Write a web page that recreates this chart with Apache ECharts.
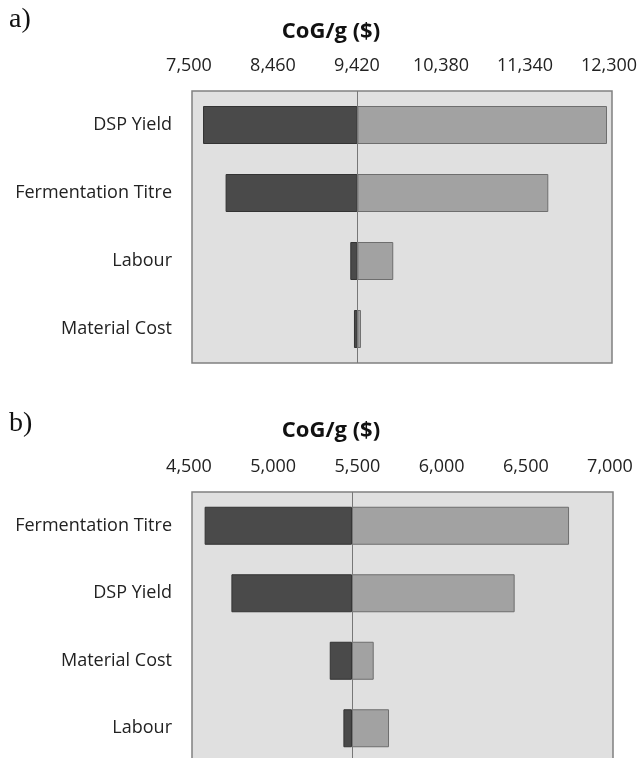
<!DOCTYPE html>
<html>
<head>
<meta charset="utf-8">
<script src="https://cdn.jsdelivr.net/npm/echarts@6/dist/echarts.min.js"></script>
<style>
html,body{margin:0;padding:0;background:#fff;}
#c{width:638px;height:758px;}
</style>
</head>
<body>
<div id="c"></div>
<script>
// Panel a)
const catsA = ['DSP Yield', 'Fermentation Titre', 'Labour', 'Material Cost'];
const lowA = [7626, 7884, 9309, 9351];
const highA = [12243, 11572, 9800, 9431];
const baseA = 9390;
const ticksA = [7500, 8460, 9420, 10380, 11340, 12300];

// Panel b)
const catsB = ['Fermentation Titre', 'DSP Yield', 'Material Cost', 'Labour'];
const lowB = [4575, 4734, 5318, 5399];
const highB = [6739, 6416, 5579, 5670];
const baseB = 5450;
const ticksB = [4500, 5000, 5500, 6000, 6500, 7000];

const labelFont = 'Open Sans';
const DARK = '#4a4a4a', LIGHT = '#a2a2a2';

function fmt(v){ return Number(v).toLocaleString('en-US'); }

function xAxisFor(idx, ticks){
  return {
    type: 'value', gridIndex: idx, position: 'top',
    min: ticks[0], max: ticks[ticks.length - 1],
    axisLine: {show: false}, axisTick: {show: false}, splitLine: {show: false},
    axisLabel: {
      customValues: ticks, formatter: fmt, margin: 16, padding: [0, 6, 0, 0],
      fontFamily: labelFont, fontSize: 18, color: '#222'
    }
  };
}
function yAxisFor(idx, cats){
  return {
    type: 'category', gridIndex: idx, data: cats, inverse: true,
    axisLine: {show: false}, axisTick: {show: false}, splitLine: {show: false},
    axisLabel: {margin: 20, fontFamily: labelFont, fontSize: 18, color: '#222'}
  };
}
function seriesFor(idx, low, high, base, stackName){
  const common = {type: 'bar', xAxisIndex: idx, yAxisIndex: idx, stack: stackName, barWidth: 38, silent: true};
  return [
    Object.assign({}, common, {
      name: stackName + '-pad', data: low,
      itemStyle: {color: 'rgba(0,0,0,0)'}
    }),
    Object.assign({}, common, {
      name: stackName + '-low', data: low.map(v => base - v),
      itemStyle: {color: DARK, borderColor: '#333', borderWidth: 1}
    }),
    Object.assign({}, common, {
      name: stackName + '-high', data: high.map(v => v - base),
      itemStyle: {color: LIGHT, borderColor: '#6e6e6e', borderWidth: 1},
      markLine: {
        silent: true, symbol: 'none', label: {show: false},
        lineStyle: {color: '#777', width: 1, type: 'solid'},
        data: [{xAxis: base}]
      }
    })
  ];
}

const chart = echarts.init(document.getElementById('c'));
chart.setOption({
  backgroundColor: '#fff',
  animation: false,
  grid: [
    {left: 192, top: 91, width: 420, height: 272, outerBoundsMode: 'none', containLabel: false, show: true, backgroundColor: '#e0e0e0', borderColor: '#808080', borderWidth: 1.5},
    {left: 192, top: 492, width: 421, height: 270, outerBoundsMode: 'none', containLabel: false, show: true, backgroundColor: '#e0e0e0', borderColor: '#808080', borderWidth: 1.5}
  ],
  xAxis: [xAxisFor(0, ticksA), xAxisFor(1, ticksB)],
  yAxis: [yAxisFor(0, catsA), yAxisFor(1, catsB)],
  series: [].concat(seriesFor(0, lowA, highA, baseA, 'a'), seriesFor(1, lowB, highB, baseB, 'b')),
  graphic: [
    {type: 'text', left: 9, top: 6, style: {text: 'a)', font: '28px "Liberation Serif"', fill: '#111'}},
    {type: 'text', x: 331, y: 32, style: {text: 'CoG/g ($)', font: 'bold 22px "Open Sans"', fill: '#111', align: 'center', verticalAlign: 'middle'}},
    {type: 'text', left: 9, top: 410, style: {text: 'b)', font: '28px "Liberation Serif"', fill: '#111'}},
    {type: 'text', x: 331, y: 431, style: {text: 'CoG/g ($)', font: 'bold 22px "Open Sans"', fill: '#111', align: 'center', verticalAlign: 'middle'}}
  ]
});
</script>
</body>
</html>
